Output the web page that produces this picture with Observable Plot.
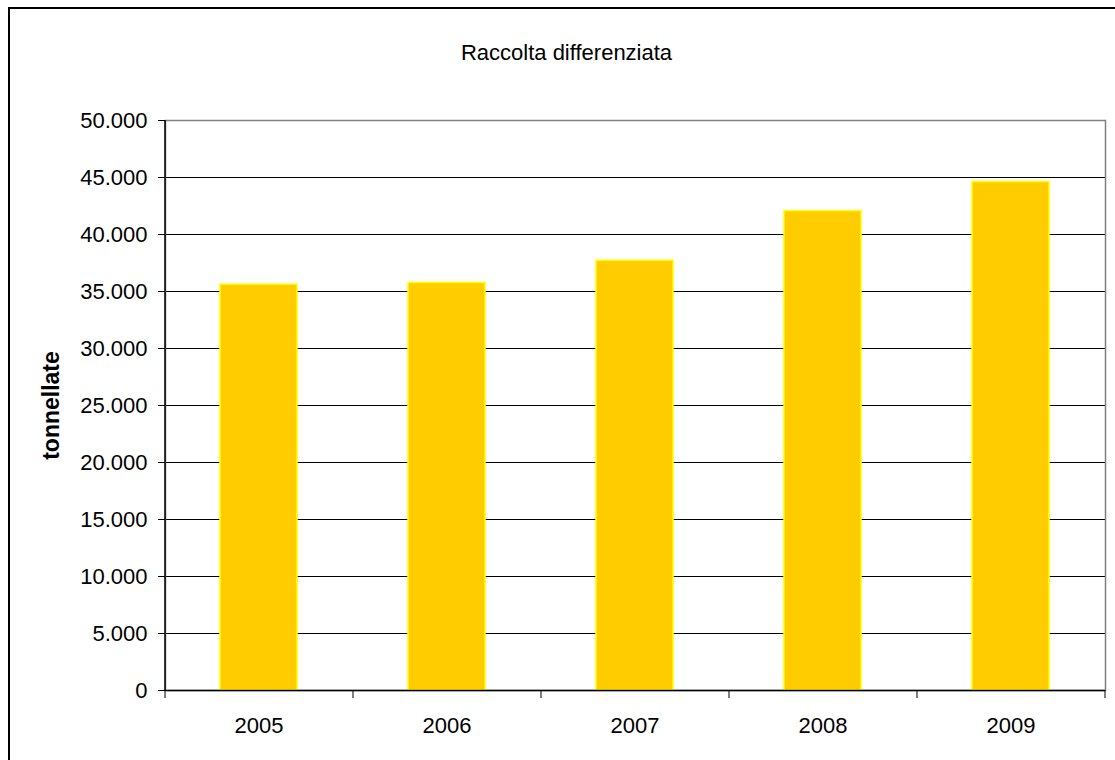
<!DOCTYPE html>
<html>
<head>
<meta charset="utf-8">
<script src="https://cdn.jsdelivr.net/npm/d3@7"></script>
<script src="https://cdn.jsdelivr.net/npm/@observablehq/plot@0.6"></script>
<style>
  html, body { margin: 0; padding: 0; background: #fff; overflow: hidden; }
  #wrap { position: relative; width: 1115px; height: 760px; }
  #border { position: absolute; left: 8px; top: 7px; width: 1200px; height: 800px; border: 2px solid #000; box-sizing: border-box; pointer-events: none; }
  svg { display: block; }
</style>
</head>
<body>
<div id="wrap"><div id="border"></div></div>
<script>
const title = "Raccolta differenziata";
const yLabel = "tonnellate";
const years = ["2005", "2006", "2007", "2008", "2009"];
const values = [35600, 35750, 37700, 42050, 44600];
const yTicks = [0, 5000, 10000, 15000, 20000, 25000, 30000, 35000, 40000, 45000, 50000];

const data = years.map((year, i) => ({year, value: values[i]}));
const it = d3.formatLocale({decimal: ",", thousands: ".", grouping: [3], currency: ["€", ""]});
const fmt = it.format(",");

const W = 1115, H = 760, mL = 165, mR = 10, mT = 120, mB = 70;
const half = (W - mL - mR) / years.length / 2;
const font = "Liberation Sans, Arial, sans-serif";

const chart = Plot.plot({
  width: W, height: H,
  marginLeft: mL, marginRight: mR, marginTop: mT, marginBottom: mB,
  style: {fontFamily: font, fontSize: "22px", color: "#000", background: "transparent"},
  x: {domain: years, paddingInner: 0.588, paddingOuter: 0.294, label: null},
  y: {domain: [0, 50000], ticks: yTicks, label: null},
  marks: [
    Plot.gridY(yTicks, {stroke: "#000", strokeOpacity: 1, strokeWidth: 1}),
    Plot.frame({stroke: "#808080", strokeWidth: 1.5}),
    Plot.barY(data, {x: "year", y: "value", fill: "#FFCC00", stroke: "#FFFF00", strokeWidth: 1.5}),
    Plot.ruleY([0], {stroke: "#000", strokeWidth: 1.5}),
    Plot.ruleX([years[0]], {dx: -half, y1: 0, y2: 50000, stroke: "#000", strokeWidth: 1.5}),
    Plot.ruleX(years, {x: d => d, dx: -half, y1: 0, y2: 0, insetBottom: -8, stroke: "#000"}),
    Plot.ruleX([years[years.length - 1]], {dx: half, y1: 0, y2: 0, insetBottom: -8, stroke: "#000"}),
    Plot.axisY(yTicks, {tickSize: 7, tickPadding: 11, tickFormat: fmt, fontSize: 22, label: null}),
    Plot.axisX({tickSize: 0, tickPadding: 27, fontSize: 22, label: null}),
    Plot.text([title], {frameAnchor: "top", dx: -69, dy: -76, fontSize: 22, fill: "#000"}),
    Plot.text([yLabel], {frameAnchor: "left", textAnchor: "middle", dx: -114, rotate: -90, fontSize: 23, fontWeight: "bold", fill: "#000"})
  ]
});
document.getElementById("wrap").insertBefore(chart, document.getElementById("border"));
</script>
</body>
</html>
